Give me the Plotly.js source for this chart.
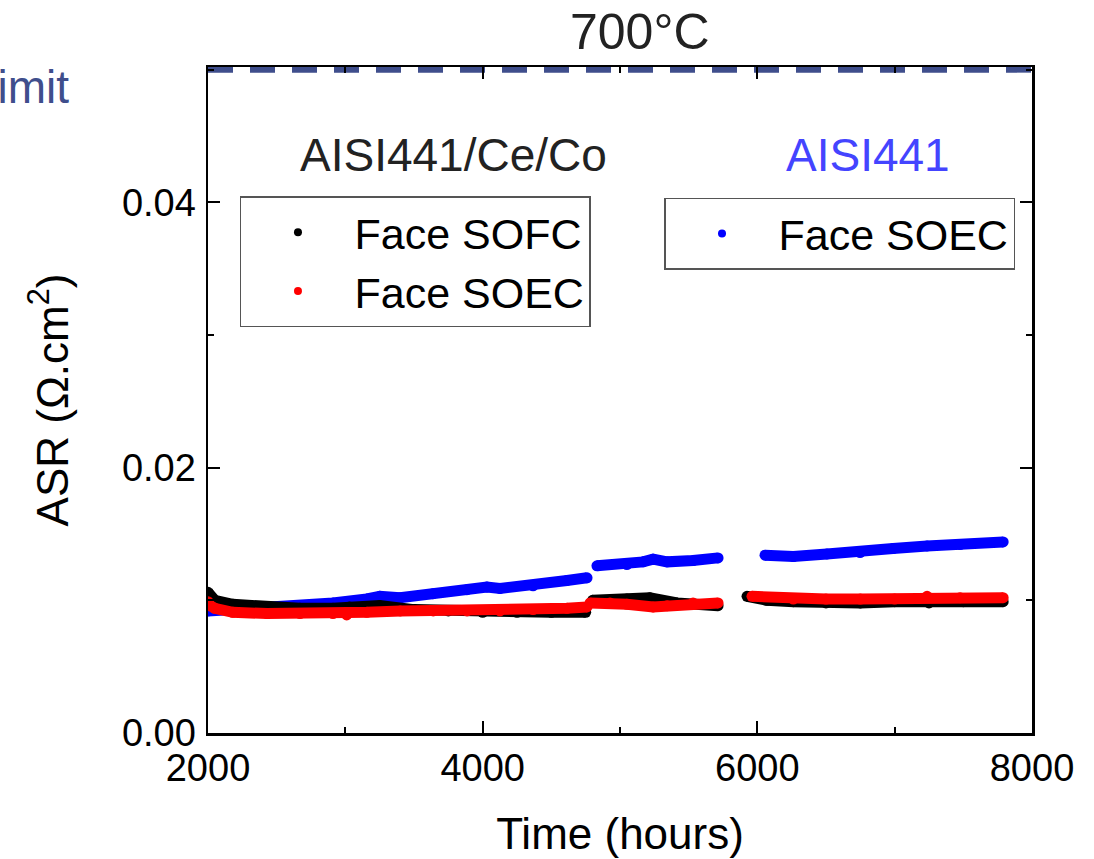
<!DOCTYPE html>
<html>
<head>
<meta charset="utf-8">
<script src="https://cdn.plot.ly/plotly-3.0.1.min.js"></script>
<style>html,body{margin:0;padding:0;background:#fff;}#chart{width:1094px;height:859px;}</style>
</head>
<body>
<div id="chart"></div>
<script>
// ---- data ----
// null separates the three measurement campaigns
const sofcCoatedTime = [2000, 2050, 2180, 2430, 2670, 2910, 3030, 3250, 3500, 3750, 4000, 4250, 4500, 4750, null,
                        4800, 5050, 5217, 5415, 5714, null,
                        5925, 6070, 6262, 6500, 6750, 7000, 7250, 7500, 7790];
const sofcCoatedASR  = [0.0106, 0.0100, 0.0097, 0.0095, 0.0094, 0.0094, 0.0095, 0.0096, 0.0093, 0.0092, 0.0091, 0.0091, 0.0091, 0.0091, null,
                        0.0100, 0.0101, 0.0102, 0.0098, 0.0096, null,
                        0.0103, 0.0100, 0.0099, 0.0098, 0.0098, 0.0099, 0.0098, 0.0099, 0.0099];

const soecCoatedTime = [2000, 2015, 2050, 2180, 2430, 2670, 2910, 3010, 3157, 3400, 3640, 3886, 4126, 4367, 4614, 4760, null,
                        4782, 4927, 5050, 5241, 5343, 5532, 5714, null,
                        5961, 6262, 6500, 6750, 7000, 7236, 7476, 7790];
const soecCoatedASR  = [0.0099, 0.0096, 0.0094, 0.0091, 0.0090, 0.0090, 0.0090, 0.0089, 0.0091, 0.0092, 0.0092, 0.0092, 0.0092, 0.0093, 0.0094, 0.0095, null,
                        0.0098, 0.0098, 0.0097, 0.0095, 0.0096, 0.0098, 0.0098, null,
                        0.0103, 0.0101, 0.0101, 0.0101, 0.0101, 0.0103, 0.0102, 0.0102];

const soecBareTime = [2000, 2182, 2430, 2670, 2910, 3157, 3252, 3398, 3638, 3886, 4031, 4126, 4367, 4614, 4760, null,
                      4832, 5050, 5168, 5241, 5343, 5532, 5714, null,
                      6056, 6262, 6507, 6748, 6988, 7236, 7476, 7790];
const soecBareASR  = [0.0092, 0.0093, 0.0094, 0.0096, 0.0098, 0.0101, 0.0103, 0.0102, 0.0105, 0.0108, 0.0110, 0.0109, 0.0111, 0.0115, 0.0117, null,
                      0.0126, 0.0127, 0.0129, 0.0131, 0.0129, 0.0130, 0.0132, null,
                      0.0134, 0.0133, 0.0135, 0.0136, 0.0139, 0.0141, 0.0142, 0.0144];

const limitTime = [2000, 8000];
const limitASR  = [0.05, 0.05];

const seriesNames = ['Face SOFC', 'Face SOEC', 'Face SOEC'];
const groupLabels = ['AISI441/Ce/Co', 'AISI441'];
const titleText = '700°C';
const limitLabel = 'Limit';
const xTicks = [2000, 4000, 6000, 8000];
const yTicks = [0, 0.02, 0.04];

// ---- styling ----
const FONT = '"Liberation Sans", Arial, Helvetica, sans-serif';
const BLACK = '#000000', RED = '#ff0000', BLUE = '#0000ff';
const LIMIT_COLOR = '#3f4e8c';

function band(x, y, color) {
  return {x: x, y: y, type: 'scatter', mode: 'lines+markers', connectgaps: false,
          line: {color: color, width: 11}, marker: {color: color, size: 11},
          showlegend: false, hoverinfo: 'skip'};
}
function legendDot(name, color, legendId) {
  return {x: [null], y: [null], type: 'scatter', mode: 'markers', name: name,
          marker: {color: color, size: 8}, legend: legendId};
}

const traces = [
  {x: limitTime, y: limitASR, type: 'scatter', mode: 'lines',
   line: {color: LIMIT_COLOR, width: 6, dash: '25px,17px'}, showlegend: false, hoverinfo: 'skip'},
  band(soecBareTime, soecBareASR, BLUE),
  band(sofcCoatedTime, sofcCoatedASR, BLACK),
  band(soecCoatedTime, soecCoatedASR, RED),
  legendDot(seriesNames[0], BLACK, 'legend'),
  legendDot(seriesNames[1], RED, 'legend'),
  legendDot(seriesNames[2], BLUE, 'legend2')
];

const axisCommon = {
  showline: true, linecolor: '#000', linewidth: 2.5, mirror: 'ticks',
  ticks: 'inside', ticklen: 12, tickwidth: 2, tickcolor: '#000',
  showgrid: false, zeroline: false,
  tickfont: {family: FONT, size: 38, color: '#000'}
};

const legendCommon = {
  font: {family: FONT, size: 43, color: '#000'},
  bgcolor: '#ffffff', bordercolor: '#555555', borderwidth: 1.5,
  xanchor: 'left', yanchor: 'top', itemwidth: 103, tracegroupgap: 0
};

const layout = {
  width: 1094, height: 859,
  margin: {l: 208, r: 62, t: 67, b: 126},
  paper_bgcolor: '#fff', plot_bgcolor: '#fff',
  font: {family: FONT, color: '#000'},
  xaxis: Object.assign({}, axisCommon, {
    range: [2000, 8000], tickvals: xTicks, ticktext: xTicks.map(String),
    minor: {ticks: 'inside', ticklen: 6, tickwidth: 2, tickcolor: '#000', dtick: 1000, tick0: 2000, showgrid: false},
    title: {text: 'Time (hours)', font: {family: FONT, size: 44, color: '#000'}, standoff: 30}
  }),
  yaxis: Object.assign({}, axisCommon, {
    range: [0, 0.0502], tickvals: yTicks, ticktext: yTicks.map(v => v.toFixed(2)),
    minor: {ticks: 'inside', ticklen: 6, tickwidth: 2, tickcolor: '#000', dtick: 0.01, tick0: 0, showgrid: false},
    ticklabelstandoff: 2,
    title: {text: 'ASR (Ω.cm<sup>2</sup>)', font: {family: FONT, size: 44, color: '#000'}, standoff: 40}
  }),
  legend: Object.assign({}, legendCommon, {x: 0.0388, y: 0.806}),
  legend2: Object.assign({}, legendCommon, {x: 0.5534, y: 0.804}),
  showlegend: true,
  annotations: [
    {text: titleText, xref: 'paper', yref: 'paper', x: 0.524, y: 1.052, xanchor: 'center', yanchor: 'middle',
     showarrow: false, font: {family: FONT, size: 50, color: '#222'}},
    {text: groupLabels[0], xref: 'paper', yref: 'paper', x: 0.298, y: 0.868, xanchor: 'center', yanchor: 'middle',
     showarrow: false, font: {family: FONT, size: 46, color: '#222'}},
    {text: groupLabels[1], xref: 'paper', yref: 'paper', x: 0.801, y: 0.868, xanchor: 'center', yanchor: 'middle',
     showarrow: false, font: {family: FONT, size: 46, color: '#4444ff'}},
    {text: limitLabel, xref: 'paper', yref: 'paper', x: -0.166, y: 0.970, xanchor: 'right', yanchor: 'middle',
     showarrow: false, font: {family: FONT, size: 46, color: LIMIT_COLOR}}
  ]
};

Plotly.newPlot('chart', traces, layout, {staticPlot: true, displayModeBar: false});
</script>
</body>
</html>
